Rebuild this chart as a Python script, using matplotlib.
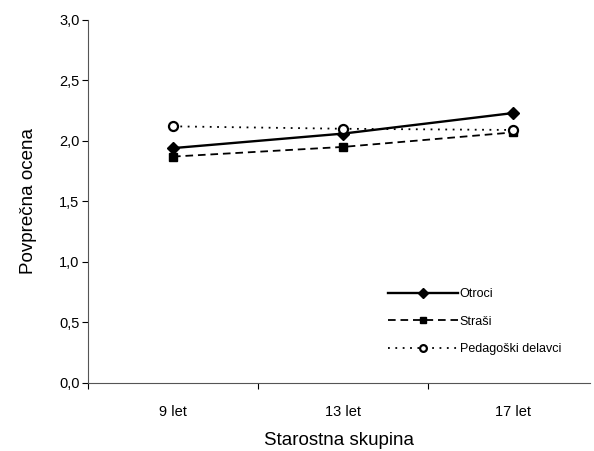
import matplotlib
matplotlib.use('agg')
import matplotlib.pyplot as plt

# values
groups = ['9 let', '13 let', '17 let']
otroci = [1.94, 2.06, 2.23]
strasi = [1.87, 1.95, 2.07]
pedagoski = [2.12, 2.10, 2.09]
series_names = ['Otroci', 'Straši', 'Pedagoški delavci']
yticks = [0.0, 0.5, 1.0, 1.5, 2.0, 2.5, 3.0]

plt.rcParams['font.family'] = ['Liberation Sans', 'DejaVu Sans']
plt.rcParams['lines.scale_dashes'] = False

fig = plt.figure(figsize=(5.94, 4.51), dpi=100)
ax = fig.add_axes([0.148, 0.151, 0.845, 0.805])

x = list(range(len(groups)))
ax.plot(x, otroci, color='black', lw=1.7, marker='D', ms=6.5, label=series_names[0])
ax.plot(x, strasi, color='black', lw=1.3, marker='s', ms=6, dashes=(5.5, 3.5), label=series_names[1])
ax.plot(x, pedagoski, color='black', lw=1.3, marker='o', ms=6.5, mfc='white', mew=1.6,
        dashes=(1.3, 4), label=series_names[2])

ax.set_xlim(-0.5, 2.45)
ax.set_ylim(0, 3)
ax.set_yticks(yticks)
ax.set_yticklabels([('%.1f' % v).replace('.', ',') for v in yticks], fontsize=10.5)
ax.set_xticks([-0.5, 0.5, 1.5])
ax.set_xticklabels([])
ax.set_xticks(x, minor=True)
ax.set_xticklabels(groups, minor=True, fontsize=10.5)
ax.tick_params(axis='x', which='minor', length=0, pad=16)
ax.tick_params(axis='x', which='major', length=4, direction='out')
ax.tick_params(axis='y', length=4, direction='out', pad=2)

for s in ['top', 'right']:
    ax.spines[s].set_visible(False)
for s in ['left', 'bottom']:
    ax.spines[s].set_color('#555555')

ax.set_ylabel('Povprečna ocena', fontsize=13.5, labelpad=16)
ax.set_xlabel('Starostna skupina', fontsize=13.5, labelpad=9)

leg = ax.legend(loc='lower left', bbox_to_anchor=(0.575, 0.045), frameon=False, fontsize=9,
                handlelength=5.6, handletextpad=0.15, labelspacing=1.25, markerscale=0.75)

fig.savefig('out.png', dpi=100)
